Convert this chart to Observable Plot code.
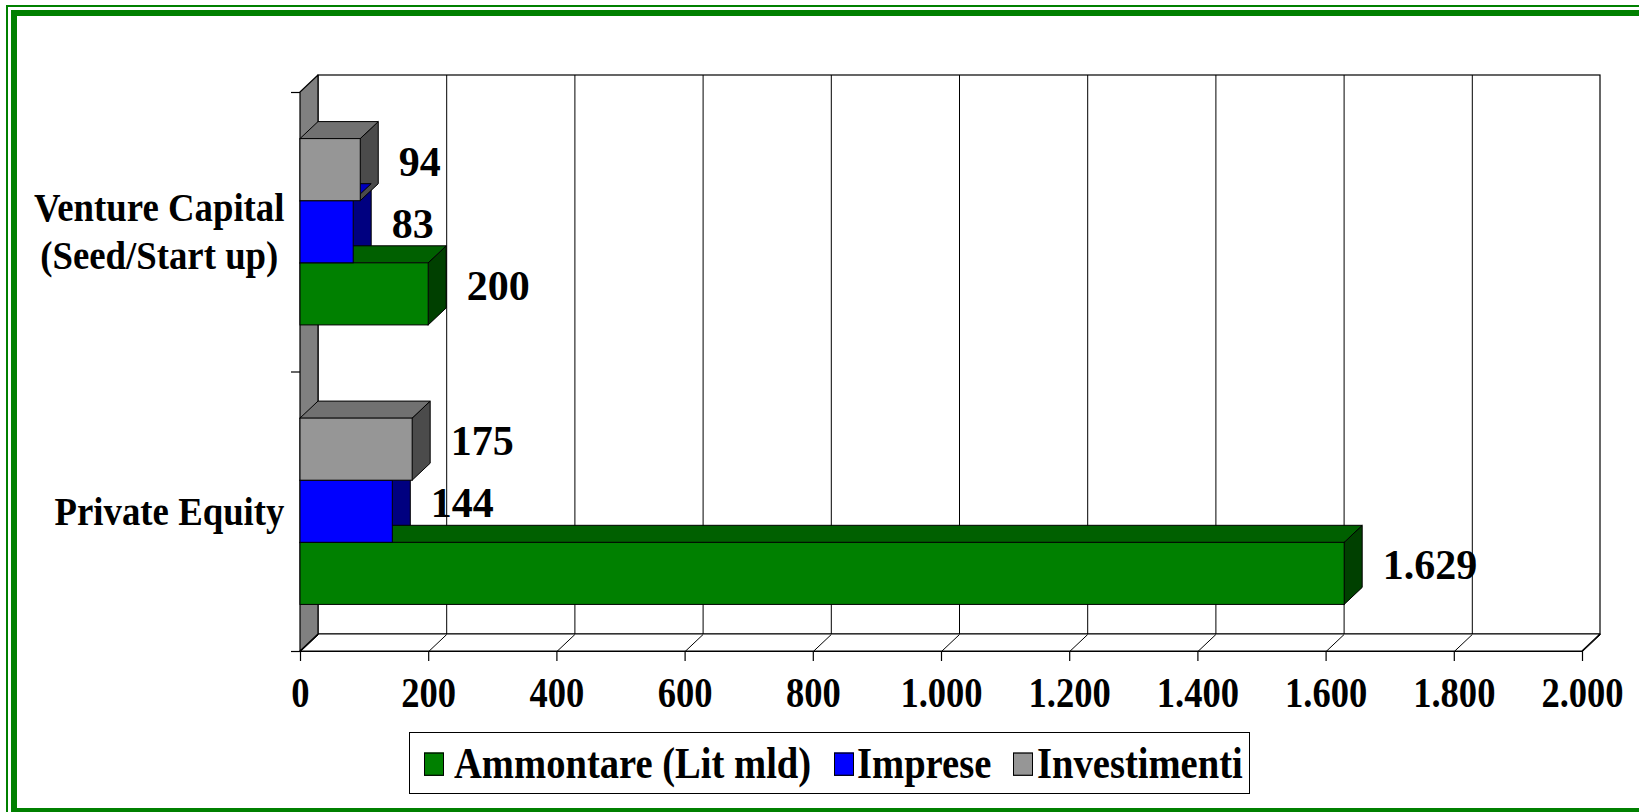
<!DOCTYPE html>
<html><head><meta charset="utf-8">
<script src="https://cdn.jsdelivr.net/npm/d3@7"></script>
<script src="https://cdn.jsdelivr.net/npm/@observablehq/plot@0.6"></script>
<style>
html,body{margin:0;padding:0;background:#fff;overflow:hidden;}
#wrap{position:relative;width:1639px;height:812px;overflow:hidden;background:#fff;font-family:"Liberation Serif","Times New Roman",serif;}
#chart{position:absolute;left:0;top:0;}
.frame-thin{position:absolute;left:6px;top:5px;width:1800px;height:1000px;border:2px solid #008000;box-sizing:border-box;z-index:5;}
.frame-thick{position:absolute;left:11px;top:10px;width:1800px;height:804px;border:6px solid #008000;box-sizing:border-box;z-index:5;}
#legend{position:absolute;left:409px;top:732px;width:841px;height:62px;border:1px solid #000;box-sizing:border-box;background:#fff;z-index:4;}
#legend .inner{position:absolute;left:0;top:0;width:100%;height:100%;transform:scaleY(1.17);transform-origin:center;}
.sw{position:absolute;top:21px;width:20px;height:20px;border:1px solid #000;box-sizing:border-box;}
.lab{position:absolute;top:10px;font-weight:bold;font-size:38.6px;line-height:40px;white-space:nowrap;color:#000;}
</style></head>
<body>
<div id="wrap">
  <div id="chart"></div>
  <div id="legend"><div class="inner"></div></div>
  <div class="frame-thin"></div>
  <div class="frame-thick"></div>
</div>
<script>
// ---- data ----
const categories = ["Venture Capital (Seed/Start up)", "Private Equity"];
const categoryLines = [["Venture Capital", "(Seed/Start up)"], ["Private Equity"]];
const seriesNames = ["Ammontare (Lit mld)", "Imprese", "Investimenti"];
const ammontare = [200, 1629];
const imprese = [83, 144];
const investimenti = [94, 175];
const xTicks = [0, 200, 400, 600, 800, 1000, 1200, 1400, 1600, 1800, 2000];
const frontColors = ["#008000", "#0000ff", "#969696"];
const topColors = ["#006000", "#0000c0", "#717171"];
const sideColors = ["#004000", "#000080", "#4b4b4b"];
const seriesValues = [ammontare, imprese, investimenti];

// ---- layout ----
const serif = "'Liberation Serif', 'Times New Roman', serif";
const W = 1639, H = 730;
const xDomain = [0, 2000], xRange = [300, 1582];
const yDomain = [0, categories.length], yRange = [92, 651];
const pxX = (xDomain[1] - xDomain[0]) / (xRange[1] - xRange[0]);
const pxY = (yDomain[1] - yDomain[0]) / (yRange[1] - yRange[0]);
const depthX = 18 * pxX, depthY = 17 * pxY;
const barW = 1 / 4.5;          // gap width 150%
const barOff = 0.75 * barW;
const yBot = yDomain[1], yTop = yDomain[0];
const catFont = 40, catSqueeze = 0.92, catRight = 284;

const it = d3.formatLocale({decimal: ",", thousands: ".", grouping: [3], currency: ["", ""]});
const fmt = it.format(",d");

const bars = [];
categories.forEach((c, ci) => seriesNames.forEach((s, si) => {
  const slot = seriesNames.length - 1 - si;
  const y1 = ci + barOff + slot * barW, y2 = y1 + barW;
  bars.push({id: ci + "-" + si, category: c, series: s, si, value: seriesValues[si][ci], y1, y2});
}));
const tops = bars.flatMap(b => [
  {id: b.id, y: b.y1, x1: 0, x2: b.value, fill: topColors[b.si]},
  {id: b.id, y: b.y1 - depthY, x1: depthX, x2: b.value + depthX, fill: topColors[b.si]}
]);
const sides = bars.flatMap(b => [
  {id: b.id, x: b.value, y1: b.y1, y2: b.y2, fill: sideColors[b.si]},
  {id: b.id, x: b.value + depthX, y1: b.y1 - depthY, y2: b.y2 - depthY, fill: sideColors[b.si]}
]);
const leftWall = [
  {x: xDomain[0], y1: yTop, y2: yBot},
  {x: xDomain[0] + depthX, y1: yTop - depthY, y2: yBot - depthY}
];
const floor = [
  {y: yBot, x1: xDomain[0], x2: xDomain[1]},
  {y: yBot - depthY, x1: xDomain[0] + depthX, x2: xDomain[1] + depthX}
];
// category labels: lines centred on each other, block right-aligned
const ctx = document.createElement("canvas").getContext("2d");
ctx.font = "bold " + catFont + "px 'Liberation Serif', 'Times New Roman', serif";
const catRows = categoryLines.flatMap((lines, ci) => {
  const maxW = d3.max(lines, t => ctx.measureText(t).width) * catSqueeze;
  const cx = xDomain[0] + (catRight - maxW / 2 - xRange[0]) * pxX;
  return lines.map((t, li) => ({
    text: t, x: cx, y: ci + 0.5 + (li - (lines.length - 1) / 2) * 48 * pxY
  }));
});

const textStyle = {fontFamily: serif, fontWeight: "bold", fill: "#000"};

const plot = Plot.plot({
  width: W, height: H,
  marginLeft: 0, marginRight: 0, marginTop: 0, marginBottom: 0,
  style: {background: "transparent", overflow: "visible"},
  x: {domain: xDomain, range: xRange, axis: null},
  y: {domain: yDomain, range: yRange, axis: null},
  color: {type: "identity"},
  marks: [
    // back wall
    Plot.rect([0], {x1: () => xDomain[0] + depthX, x2: () => xDomain[1] + depthX,
      y1: () => yTop - depthY, y2: () => yBot - depthY, fill: "#fff", stroke: "#000", strokeWidth: 1.2}),
    Plot.ruleX(xTicks.slice(1, -1), {x: d => d + depthX, y1: () => yTop - depthY, y2: () => yBot - depthY,
      stroke: "#000", strokeWidth: 1}),
    // floor
    Plot.areaX(floor, {y: "y", x1: "x1", x2: "x2", fill: "#fff", stroke: "#000", strokeWidth: 1.2}),
    Plot.link(xTicks, {x1: d => d, y1: () => yBot, x2: d => d + depthX, y2: () => yBot - depthY,
      stroke: "#000", strokeWidth: 1}),
    // left wall
    Plot.areaY(leftWall, {x: "x", y1: "y1", y2: "y2", fill: "#808080", stroke: "#000", strokeWidth: 1.2}),
    // ticks
    Plot.ruleX(xTicks, {x: d => d, y1: () => yBot, y2: () => yBot + 10 * pxY, stroke: "#000", strokeWidth: 1.2}),
    Plot.ruleY(d3.range(categories.length + 1), {y: d => d, x1: () => xDomain[0] - 9 * pxX, x2: () => xDomain[0],
      stroke: "#000", strokeWidth: 1.2}),
    Plot.ruleY([yBot], {y: d => d, x1: () => xDomain[0], x2: () => xDomain[1], stroke: "#000", strokeWidth: 1.2}),
    // bars
    Plot.areaY(sides, {x: "x", y1: "y1", y2: "y2", z: "id", fill: "fill", stroke: "#000", strokeWidth: 1}),
    Plot.areaX(tops, {y: "y", x1: "x1", x2: "x2", z: "id", fill: "fill", stroke: "#000", strokeWidth: 1}),
    Plot.rect(bars, {x1: () => 0, x2: "value", y1: "y1", y2: "y2", fill: d => frontColors[d.si],
      stroke: "#000", strokeWidth: 1}),
    // labels (order matters for the squeeze below)
    Plot.text(bars, {x: "value", y: d => (d.y1 + d.y2) / 2, text: d => fmt(d.value),
      textAnchor: "start", lineAnchor: "middle", dx: 38, dy: -8, fontSize: 42, ...textStyle}),
    Plot.text(xTicks, {x: d => d, y: () => yBot, text: d => fmt(d), textAnchor: "middle", lineAnchor: "middle",
      dy: 42, fontSize: 42, ...textStyle}),
    Plot.text(catRows, {x: "x", y: "y", text: "text", textAnchor: "middle", lineAnchor: "middle",
      fontSize: catFont, ...textStyle})
  ]
});
document.getElementById("chart").append(plot);

// horizontal condensation of the text, as in the original rendering
const textGroups = plot.querySelectorAll('g[aria-label="text"]');
function squeeze(g, k) {
  if (!g) return;
  g.querySelectorAll("text").forEach(t => {
    const tr = t.getAttribute("transform") || "";
    const x = +t.getAttribute("x") || 0, y = +t.getAttribute("y") || 0;
    t.setAttribute("transform", tr + " translate(" + x + "," + y + ") scale(" + k + ",1) translate(" + (-x) + "," + (-y) + ")");
  });
}
squeeze(textGroups[0], 1.0);
squeeze(textGroups[1], 0.87);
squeeze(textGroups[2], catSqueeze);

// legend
const legendSwatchLeft = [14, 424, 603];
const legendTextLeft = [44, 447, 627];
const inner = document.querySelector("#legend .inner");
seriesNames.forEach((s, i) => {
  const sw = document.createElement("div");
  sw.className = "sw"; sw.style.background = frontColors[i]; sw.style.left = legendSwatchLeft[i] + "px";
  const lab = document.createElement("span");
  lab.className = "lab"; lab.textContent = s; lab.style.left = legendTextLeft[i] + "px";
  inner.append(sw, lab);
});
</script>
</body></html>
